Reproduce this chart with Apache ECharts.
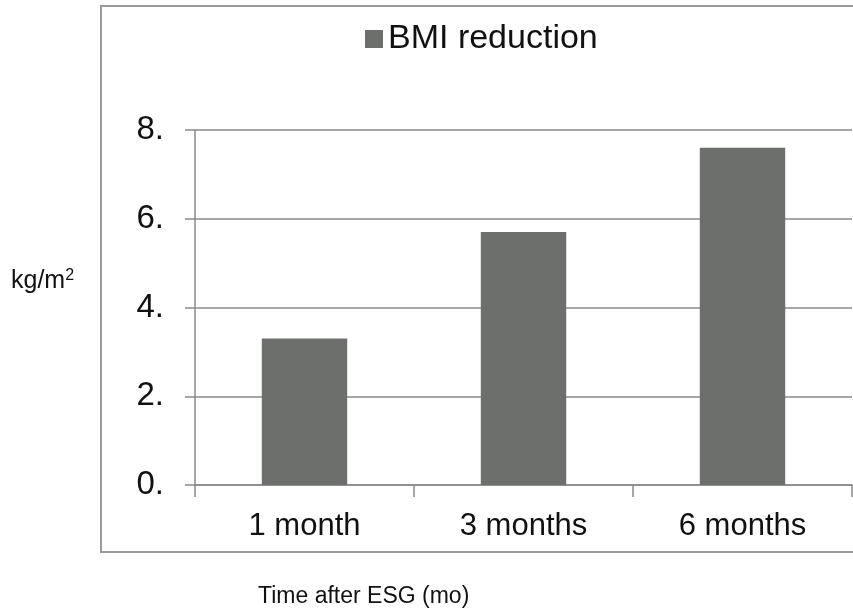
<!DOCTYPE html>
<html>
<head>
<meta charset="utf-8">
<script src="https://cdn.jsdelivr.net/npm/echarts@6/dist/echarts.min.js"></script>
<style>
  html, body { margin: 0; padding: 0; background: #fff; }
  #chart { width: 853px; height: 610px; }
</style>
</head>
<body>
<div id="chart"></div>
<script>
// data
var categories = ['1 month', '3 months', '6 months']
var bmiReduction = [3.3, 5.7, 7.6]
var seriesName = 'BMI reduction'

var myChart = echarts.init(document.getElementById('chart'))
var font = 'Liberation Sans, Arial, Helvetica, sans-serif'

var option = {
  animation: false,
  textStyle: { fontFamily: font },
  legend: {
    data: [seriesName],
    left: 360,
    top: 17,
    itemWidth: 18,
    itemHeight: 18,
    itemGap: 8,
    icon: 'rect',
    textStyle: { fontSize: 34, color: '#111', fontFamily: font }
  },
  grid: {
    left: 195,
    right: 1,
    top: 130,
    bottom: 125
  },
  xAxis: {
    type: 'category',
    data: categories,
    axisLine: { lineStyle: { color: '#8a8a8a', width: 1.5 } },
    axisTick: { show: true, length: 12, lineStyle: { color: '#8a8a8a', width: 1.5 } },
    axisLabel: { fontSize: 31, color: '#111', margin: 26, fontFamily: font }
  },
  yAxis: {
    type: 'value',
    min: 0,
    max: 8,
    interval: 2,
    axisLine: { show: true, lineStyle: { color: '#8a8a8a', width: 1.5 } },
    axisTick: { show: true, length: 10, lineStyle: { color: '#8a8a8a', width: 1.5 } },
    splitLine: { lineStyle: { color: '#8a8a8a', width: 1.5 } },
    axisLabel: {
      fontSize: 33,
      color: '#111',
      margin: 31,
      fontFamily: font,
      formatter: function(v) { return v + '.' }
    }
  },
  series: [
    {
      name: seriesName,
      type: 'bar',
      barWidth: '39%',
      itemStyle: { color: '#6c6f6c' },
      data: bmiReduction
    }
  ],
  graphic: [
    {
      type: 'rect',
      shape: { x: 101, y: 6, width: 800, height: 546 },
      style: { fill: 'none', stroke: '#9a9a9a', lineWidth: 2 },
      z: -1
    },
    {
      type: 'text',
      left: 11,
      top: 268,
      style: {
        text: 'kg/m{sup|2}',
        fontSize: 25,
        fill: '#111',
        fontFamily: font,
        rich: {
          sup: { fontSize: 16, verticalAlign: 'top', padding: [0, 0, 10, 0], fill: '#111' }
        }
      }
    },
    {
      type: 'text',
      left: 258,
      top: 585,
      style: { text: 'Time after ESG (mo)', fontSize: 23, fill: '#111', fontFamily: font }
    }
  ]
}

myChart.setOption(option)
</script>
</body>
</html>
